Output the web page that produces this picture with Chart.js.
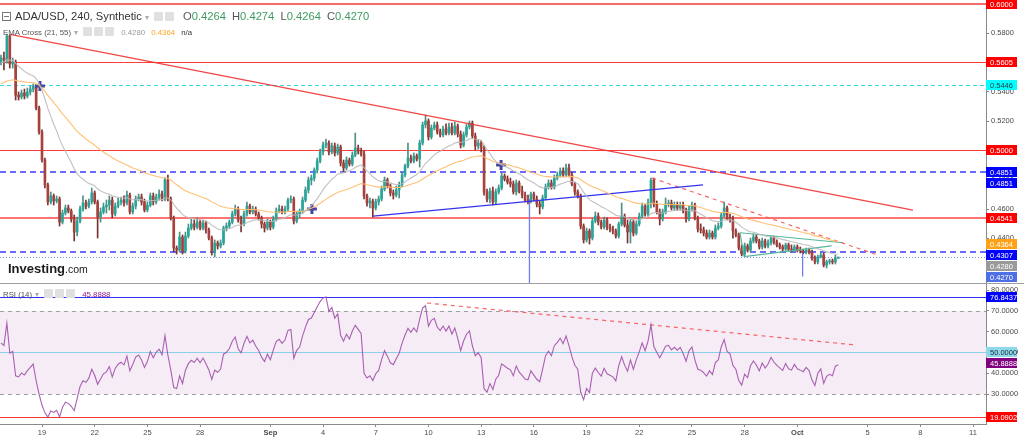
<!DOCTYPE html>
<html>
<head>
<meta charset="utf-8">
<title>ADA/USD, 240, Synthetic</title>
<script src="https://cdn.jsdelivr.net/npm/chart.js@4.4.1/dist/chart.umd.min.js"></script>
<style>
html,body{margin:0;padding:0;background:#fff;}
body{width:1024px;height:437px;position:relative;overflow:hidden;font-family:"Liberation Sans",Arial,sans-serif;}
.pane{position:absolute;left:0;width:1024px;}
#mainPane{top:0;height:283px;}
#rsiPane{top:284px;height:153px;}
#sep{position:absolute;left:0;top:283px;width:1024px;height:1px;background:#a0a0a0;}
.hdr{position:absolute;white-space:nowrap;}
.ico{display:inline-block;width:9px;height:9px;background:#e0e0e0;border-radius:1px;vertical-align:-1px;margin-right:2px;}
.sq{display:inline-block;width:7px;height:7px;border:1px solid #777;vertical-align:-1px;margin-right:4px;position:relative;}
.sq:after{content:"";position:absolute;left:1px;right:1px;top:3px;height:1px;background:#777;}
.arr{color:#aaa;font-size:8px;margin:0 5px 0 3px;}
</style>
</head>
<body>
<div class="pane" id="mainPane"><canvas id="mainCanvas" width="1024" height="283"></canvas></div>
<div id="sep"></div>
<div class="pane" id="rsiPane"><canvas id="rsiCanvas" width="1024" height="153"></canvas></div>

<div class="hdr" style="left:2px;top:10px;font-size:11.2px;color:#333;line-height:13px;">
<span class="sq"></span>ADA/USD, 240, Synthetic<span class="arr">&#9662;</span><span class="ico"></span><span class="ico"></span>
<span style="margin-left:4px;color:#555;">O</span><span style="color:#3d9b5f;">0.4264</span>
<span style="margin-left:3px;color:#555;">H</span><span style="color:#3d9b5f;">0.4274</span>
<span style="margin-left:3px;color:#555;">L</span><span style="color:#3d9b5f;">0.4264</span>
<span style="margin-left:3px;color:#555;">C</span><span style="color:#3d9b5f;">0.4270</span>
</div>
<div class="hdr" style="left:3px;top:27px;font-size:7.8px;color:#555;line-height:11px;">
EMA Cross (21, 55)<span class="arr">&#9662;</span><span class="ico"></span><span class="ico"></span><span class="ico"></span>
<span style="margin-left:3px;color:#999;">0.4280</span>
<span style="margin-left:4px;color:#ffa726;">0.4364</span>
<span style="margin-left:4px;color:#333;">n/a</span>
</div>
<div class="hdr" style="left:8px;top:259px;color:#1b1b1b;">
<span style="font-weight:bold;font-size:13px;">Investing</span><span style="font-size:10.5px;">.com</span>
</div>
<div class="hdr" style="left:3px;top:289px;font-size:7.8px;color:#555;line-height:11px;">
RSI (14)<span class="arr">&#9662;</span><span class="ico"></span><span class="ico"></span><span class="ico"></span>
<span style="margin-left:3px;color:#8b1a8b;">45.8888</span>
</div>

<script>
// ---------- DATA (4h candles, index 0 = Aug 16 16:00) ----------
const opens = [
.5602,.5630,.5616,.5780,.5589,.5602, .5377,.5364,.5391,.5370,.5398,.5418,
.5439,.5289,.5125,.4934,.4764,.4648, .4689,.4655,.4668,.4511,.4573,.4607,
.4586,.4532,.4443,.4518,.4600,.4641, .4620,.4648,.4709,.4648,.4545,.4580,
.4614,.4627,.4661,.4566,.4620,.4648, .4661,.4641,.4695,.4580,.4620,.4668,
.4682,.4648,.4593,.4627,.4689,.4648, .4682,.4702,.4668,.4798,.4668,.4539,
.4334,.4320,.4409,.4314,.4416,.4470, .4498,.4477,.4511,.4470,.4505,.4457,
.4402,.4307,.4368,.4348,.4368,.4470, .4484,.4511,.4566,.4600,.4525,.4498,
.4566,.4620,.4580,.4600,.4566,.4539, .4498,.4470,.4511,.4477,.4532,.4586,
.4600,.4580,.4600,.4661,.4668,.4518, .4566,.4586,.4661,.4730,.4798,.4811,
.4866,.4927,.4989,.5036,.5050,.4989, .5030,.4982,.5023,.4914,.4880,.4934,
.4907,.4968,.5016,.4995,.4975,.4689, .4641,.4655,.4607,.4648,.4668,.4736,
.4798,.4757,.4709,.4695,.4730,.4764, .4832,.4893,.4948,.4927,.4961,.4941,
.5050,.5173,.5200,.5091,.5152,.5173, .5125,.5105,.5145,.5118,.5159,.5118,
.5166,.5111,.5036,.5105,.5159,.5186, .5098,.5030,.5050,.5016,.4716,.4668,
.4723,.4648,.4716,.4743,.4825,.4805, .4784,.4770,.4716,.4777,.4723,.4695,
.4661,.4655,.4702,.4668,.4634,.4614, .4675,.4750,.4777,.4750,.4811,.4832,
.4859,.4832,.4880,.4832,.4770,.4716, .4689,.4484,.4389,.4450,.4402,.4518,
.4552,.4511,.4477,.4525,.4477,.4464, .4450,.4416,.4498,.4552,.4491,.4443,
.4511,.4436,.4498,.4552,.4620,.4566, .4641,.4798,.4634,.4580,.4532,.4580,
.4634,.4641,.4607,.4627,.4607,.4627, .4586,.4532,.4600,.4627,.4539,.4464,
.4457,.4436,.4409,.4436,.4409,.4470, .4484,.4559,.4607,.4539,.4525,.4450,
.4423,.4334,.4293,.4348,.4320,.4382, .4409,.4382,.4341,.4382,.4348,.4368,
.4402,.4375,.4355,.4341,.4327,.4355, .4327,.4320,.4341,.4320,.4314,.4307,
.4320,.4307,.4266,.4239,.4273,.4286, .4218,.4239,.4245,.4239,.4264
];
const highs = [
.5650,.5670,.5793,.5786,.5630,.5616, .5398,.5411,.5418,.5425,.5439,.5452,
.5445,.5302,.5139,.4948,.4777,.4716, .4702,.4689,.4682,.4593,.4627,.4627,
.4600,.4559,.4545,.4620,.4689,.4661, .4668,.4743,.4723,.4661,.4607,.4641,
.4661,.4689,.4682,.4641,.4675,.4682, .4689,.4723,.4709,.4641,.4689,.4702,
.4702,.4668,.4648,.4709,.4709,.4702, .4730,.4723,.4811,.4832,.4682,.4552,
.4348,.4443,.4423,.4443,.4498,.4532, .4525,.4539,.4525,.4525,.4518,.4470,
.4416,.4389,.4382,.4389,.4484,.4505, .4525,.4586,.4627,.4614,.4552,.4586,
.4648,.4634,.4620,.4614,.4580,.4552, .4511,.4532,.4525,.4552,.4607,.4627,
.4620,.4620,.4675,.4689,.4682,.4586, .4600,.4682,.4750,.4818,.4832,.4880,
.4948,.5009,.5057,.5077,.5064,.5050, .5050,.5043,.5036,.4934,.4955,.4948,
.4989,.5118,.5036,.5016,.4995,.4702, .4675,.4668,.4668,.4689,.4757,.4818,
.4811,.4770,.4730,.4757,.4784,.4852, .4907,.5050,.4968,.4982,.4975,.5070,
.5193,.5241,.5214,.5173,.5193,.5193, .5145,.5166,.5180,.5186,.5186,.5193,
.5180,.5132,.5125,.5180,.5200,.5200, .5118,.5070,.5064,.5030,.4736,.4743,
.4750,.4736,.4764,.4845,.4839,.4825, .4811,.4791,.4798,.4791,.4757,.4716,
.4695,.4716,.4716,.4689,.4655,.4695, .4770,.4798,.4798,.4832,.4852,.4880,
.4880,.4907,.4907,.4852,.4784,.4730, .4702,.4498,.4470,.4464,.4539,.4580,
.4573,.4525,.4545,.4539,.4498,.4484, .4464,.4511,.4641,.4566,.4525,.4539,
.4525,.4518,.4573,.4641,.4634,.4668, .4811,.4811,.4655,.4600,.4600,.4675,
.4661,.4661,.4648,.4648,.4648,.4648, .4607,.4620,.4648,.4641,.4552,.4498,
.4477,.4457,.4457,.4450,.4491,.4505, .4573,.4648,.4620,.4566,.4552,.4464,
.4436,.4355,.4368,.4361,.4402,.4430, .4423,.4395,.4402,.4395,.4389,.4416,
.4416,.4389,.4368,.4355,.4368,.4368, .4355,.4355,.4355,.4341,.4327,.4334,
.4334,.4320,.4280,.4286,.4300,.4300, .4252,.4259,.4259,.4286,.4274
];
const lows = [
.5582,.5548,.5595,.5561,.5561,.5343, .5343,.5350,.5350,.5357,.5377,.5398,
.5275,.5111,.4920,.4743,.4627,.4634, .4627,.4641,.4484,.4498,.4559,.4573,
.4511,.4382,.4416,.4505,.4586,.4600, .4607,.4634,.4634,.4402,.4511,.4566,
.4573,.4593,.4539,.4552,.4607,.4627, .4620,.4627,.4566,.4566,.4600,.4655,
.4627,.4580,.4580,.4614,.4627,.4634, .4661,.4655,.4655,.4655,.4525,.4307,
.4293,.4307,.4293,.4300,.4402,.4457, .4457,.4464,.4457,.4457,.4436,.4389,
.4286,.4273,.4327,.4334,.4355,.4450, .4470,.4498,.4552,.4511,.4443,.4484,
.4552,.4566,.4566,.4552,.4525,.4470, .4443,.4457,.4457,.4464,.4518,.4573,
.4566,.4566,.4586,.4641,.4498,.4505, .4539,.4573,.4648,.4709,.4764,.4791,
.4845,.4914,.4968,.5016,.4968,.4975, .4961,.4968,.4893,.4852,.4866,.4893,
.4893,.4955,.4975,.4961,.4668,.4620, .4607,.4545,.4593,.4627,.4655,.4723,
.4743,.4689,.4668,.4682,.4675,.4750, .4818,.4880,.4914,.4914,.4927,.4886,
.5036,.5152,.5070,.5077,.5139,.5111, .5091,.5091,.5105,.5105,.5105,.5105,
.5091,.5016,.5023,.5091,.5145,.5084, .5002,.5009,.4989,.4695,.4648,.4641,
.4627,.4634,.4702,.4730,.4791,.4770, .4750,.4702,.4695,.4709,.4675,.4648,
.4634,.4641,.4655,.4614,.4566,.4600, .4661,.4736,.4736,.4736,.4798,.4818,
.4818,.4818,.4818,.4757,.4695,.4675, .4464,.4368,.4375,.4361,.4389,.4505,
.4491,.4464,.4464,.4457,.4443,.4430, .4402,.4402,.4484,.4477,.4368,.4368,
.4416,.4423,.4484,.4539,.4552,.4552, .4607,.4614,.4566,.4491,.4518,.4566,
.4614,.4593,.4593,.4593,.4593,.4573, .4511,.4518,.4586,.4525,.4443,.4436,
.4416,.4395,.4395,.4395,.4395,.4457, .4470,.4545,.4525,.4511,.4402,.4409,
.4320,.4280,.4280,.4307,.4307,.4368, .4368,.4327,.4327,.4334,.4334,.4355,
.4361,.4341,.4327,.4314,.4314,.4314, .4307,.4307,.4307,.4300,.4293,.4293,
.4293,.4252,.4225,.4225,.4266,.4205, .4198,.4225,.4225,.4225,.4264
];
const closes = [
.5630,.5616,.5780,.5589,.5602,.5377, .5364,.5391,.5370,.5398,.5418,.5439,
.5289,.5125,.4934,.4764,.4648,.4689, .4655,.4668,.4511,.4573,.4607,.4586,
.4532,.4443,.4518,.4600,.4641,.4620, .4648,.4709,.4648,.4545,.4580,.4614,
.4627,.4661,.4566,.4620,.4648,.4661, .4641,.4695,.4580,.4620,.4668,.4682,
.4648,.4593,.4627,.4689,.4648,.4682, .4702,.4668,.4798,.4668,.4539,.4334,
.4320,.4409,.4314,.4416,.4470,.4498, .4477,.4511,.4470,.4505,.4457,.4402,
.4307,.4368,.4348,.4368,.4470,.4484, .4511,.4566,.4600,.4525,.4498,.4566,
.4620,.4580,.4600,.4566,.4539,.4498, .4470,.4511,.4477,.4532,.4586,.4600,
.4580,.4600,.4661,.4668,.4518,.4566, .4586,.4661,.4730,.4798,.4811,.4866,
.4927,.4989,.5036,.5050,.4989,.5030, .4982,.5023,.4914,.4880,.4934,.4907,
.4968,.5016,.4995,.4975,.4689,.4641, .4655,.4607,.4648,.4668,.4736,.4798,
.4757,.4709,.4695,.4730,.4764,.4832, .4893,.4948,.4927,.4961,.4941,.5050,
.5173,.5200,.5091,.5152,.5173,.5125, .5105,.5145,.5118,.5159,.5118,.5166,
.5111,.5036,.5105,.5159,.5186,.5098, .5030,.5050,.5016,.4716,.4668,.4723,
.4648,.4716,.4743,.4825,.4805,.4784, .4770,.4716,.4777,.4723,.4695,.4661,
.4655,.4702,.4668,.4634,.4614,.4675, .4750,.4777,.4750,.4811,.4832,.4859,
.4832,.4880,.4832,.4770,.4716,.4689, .4484,.4389,.4450,.4402,.4518,.4552,
.4511,.4477,.4525,.4477,.4464,.4450, .4416,.4498,.4552,.4491,.4443,.4511,
.4436,.4498,.4552,.4620,.4566,.4641, .4798,.4634,.4580,.4532,.4580,.4634,
.4641,.4607,.4627,.4607,.4627,.4586, .4532,.4600,.4627,.4539,.4464,.4457,
.4436,.4409,.4436,.4409,.4470,.4484, .4559,.4607,.4539,.4525,.4450,.4423,
.4334,.4293,.4348,.4320,.4382,.4409, .4382,.4341,.4382,.4348,.4368,.4402,
.4375,.4355,.4341,.4327,.4355,.4327, .4320,.4341,.4320,.4314,.4307,.4320,
.4307,.4266,.4239,.4273,.4286,.4218, .4239,.4245,.4239,.4266,.4270
];

// x-axis: candle index of each date tick, and its label
const tickIdx    = [14, 32, 50, 68, 92, 110, 128, 146, 164, 182, 200, 218, 236, 254, 272, 296, 314, 332];
const tickLabels = ['19','22','25','28','Sep','4','7','10','13','16','19','22','25','28','Oct','5','8','11'];
const priceTicks = [0.44, 0.46, 0.48, 0.50, 0.52, 0.54, 0.56, 0.58];
const rsiTicks   = [30, 40, 50, 60, 70, 80];

// indicator settings (EMA Cross 21/55, RSI 14) and their starting values at the first candle
const emaPeriods = [21, 55];
const emaStart   = [0.5600, 0.5455];
const rsiPeriod  = 14;
const rsiStartGainLoss = [0.0024, 0.0020];

// EMA cross markers (candle index, price)
const crossIdx = [13.3, 106.2, 170.8];
const crossVal = [0.5439, 0.4600, 0.4900];

// horizontal levels (main pane)
const priceLevels = [0.6000, 0.5605, 0.5446, 0.5000, 0.4851, 0.4541, 0.4307, 0.4270];
// price-scale labels (main pane)
const priceLabels = [0.6000, 0.5605, 0.5446, 0.5000, 0.4851, 0.4851, 0.4541, 0.4364, 0.4307, 0.4280, 0.4270];

// drawn trend lines: [startIdx, endIdx] and [startPrice, endPrice]
const resistX = [3.1, 311.5],   resistY = [0.5790, 0.4593];
const supportX = [127.1, 239.8], supportY = [0.4552, 0.4764];
const dashX = [222.4, 299.5],    dashY = [0.4811, 0.4286];
const triUpX = [252.4, 287.6],   triUpY = [0.4438, 0.4370];
const triLoX = [253.8, 283.7],   triLoY = [0.4275, 0.4348];
const triSideX = [252.4, 253.8], triSideY = [0.4438, 0.4275];
const vert1X = [180.5, 180.5],   vert1Y = [0.4668, 0.4000];
const vert2X = [273.8, 273.8],   vert2Y = [0.4300, 0.4139];

// RSI pane
const rsiLevels = [76.8437, 70, 50, 30, 19.0902];
const rsiLabels = [76.8437, 50.0000, 45.8888, 19.0902];
const rsiBand = [70, 30];
const rsiDashX = [145.5, 291.7], rsiDashY = [73.75, 53.6];

// ---------- STYLE ----------
const X_MIN = -0.346, X_MAX = 336.44;
const P_MIN = 0.40955, P_MAX = 0.6025;
const R_MIN = 15.577, R_MAX = 82.885;
const FONT = '"Liberation Sans", Arial, sans-serif';
const upBody = '#26a69a', dnBody = '#a6413c', upWick = '#4f8f84', dnWick = '#7a3230';
const levelStyles = [
  {c:'rgba(240,70,70,0.8)', w:2, d:[]},
  {c:'#ff3b3b', w:1, d:[]},
  {c:'#30e0e0', w:1, d:[4,3]},
  {c:'#ff3b3b', w:1, d:[]},
  {c:'#6b6bff', w:2, d:[6,4]},
  {c:'rgba(255,80,80,0.8)', w:2, d:[]},
  {c:'#6b6bff', w:2, d:[6,4]},
  {c:'#7f95f5', w:1, d:[1,2]}
];
const priceLabelBg = ['#ff0000','#ff0000','#00ffff','#ff0000','#0000ff','#0000ff','#ff0000','#ffa21a','#0000ff','#9a9a9a','#4f6fe6'];
const priceLabelFg = ['#fff','#fff','#1a3a3a','#fff','#fff','#fff','#fff','#fff','#fff','#fff','#fff'];
const rsiLevelStyles = [
  {c:'#3030ff', w:1, d:[]},
  {c:'#a0a0a0', w:1, d:[4,4]},
  {c:'#8ccfe8', w:1, d:[]},
  {c:'#a0a0a0', w:1, d:[4,4]},
  {c:'#ff3030', w:1, d:[]}
];
const rsiLabelBg = ['#0000ff', '#8fd8ea', '#800080', '#ff0000'];
const rsiLabelFg = ['#fff', '#1a2a3a', '#fff', '#fff'];

// ---------- derived indicator series ----------
function ema(vals, n, start) {
  const k = 2 / (n + 1); const out = [start];
  for (let i = 1; i < vals.length; i++) out.push(out[i - 1] + k * (vals[i] - out[i - 1]));
  return out;
}
function rsi(vals, n, g0, l0) {
  let ag = g0, al = l0; const out = [100 - 100 / (1 + ag / al)];
  for (let i = 1; i < vals.length; i++) {
    const d = vals[i] - vals[i - 1];
    ag = (ag * (n - 1) + Math.max(d, 0)) / n;
    al = (al * (n - 1) + Math.max(-d, 0)) / n;
    out.push(100 - 100 / (1 + ag / al));
  }
  return out;
}
const emaFast = ema(closes, emaPeriods[0], emaStart[0]);
const emaSlow = ema(closes, emaPeriods[1], emaStart[1]);
const rsiVals = rsi(closes, rsiPeriod, rsiStartGainLoss[0], rsiStartGainLoss[1]);

const pts = (xs, ys) => xs.map((x, i) => ({x, y: ys[i]}));
const lineDs = (xs, ys, color, width, dash) => ({
  type: 'line', data: pts(xs, ys), borderColor: color, borderWidth: width, borderDash: dash || [],
  pointRadius: 0, fill: false, tension: 0, order: 0
});

function levelsPlugin(id, values, styles, labelVals, labelBg, labelFg, band, bandColor) {
  return {
    id,
    beforeDatasetsDraw(chart) {
      const {ctx, chartArea: a, scales: {y}} = chart;
      ctx.save();
      ctx.beginPath(); ctx.rect(a.left, a.top, a.right - a.left, a.bottom - a.top); ctx.clip();
      if (band) {
        const y1 = y.getPixelForValue(band[0]), y2 = y.getPixelForValue(band[1]);
        ctx.fillStyle = bandColor; ctx.fillRect(a.left, y1, a.right - a.left, y2 - y1);
      }
      values.forEach((v, i) => {
        const st = styles[i];
        const py = Math.round(y.getPixelForValue(v)) + (st.w % 2 ? 0.5 : 0);
        ctx.strokeStyle = st.c; ctx.lineWidth = st.w; ctx.setLineDash(st.d);
        ctx.beginPath(); ctx.moveTo(a.left, py); ctx.lineTo(a.right, py); ctx.stroke();
      });
      ctx.restore();
    },
    afterDraw(chart) {
      const {ctx, chartArea: a, scales: {y}} = chart;
      const items = labelVals.map((v, i) => ({v, y: y.getPixelForValue(v), bg: labelBg[i], fg: labelFg[i]}));
      items.sort((p, q) => p.y - q.y);
      for (let i = 1; i < items.length; i++) if (items[i].y < items[i - 1].y + 11) items[i].y = items[i - 1].y + 11;
      ctx.save();
      ctx.font = '7.5px ' + FONT; ctx.textBaseline = 'middle';
      items.forEach(it => {
        ctx.fillStyle = it.bg; ctx.fillRect(a.right, Math.round(it.y) - 5, 31, 10);
        ctx.fillStyle = it.fg; ctx.fillText(it.v.toFixed(4), a.right + 4, Math.round(it.y) + 0.5);
      });
      ctx.restore();
    }
  };
}

const yAxisCommon = (min, max, ticks) => ({
  position: 'right', min, max,
  afterBuildTicks: s => { s.ticks = ticks.map(v => ({value: v})); },
  afterFit: s => { s.width = 38; s.paddingTop = 0; s.paddingBottom = 0; },
  ticks: {callback: v => Number(v).toFixed(4), color: '#4a4a4a', font: {size: 7.5, family: FONT}, padding: 2},
  grid: {drawOnChartArea: false, tickLength: 3, color: '#8a8a8a'},
  border: {display: true, color: '#8a8a8a'}
});

Chart.defaults.font.family = FONT;
Chart.defaults.animation = false;

const idxs = closes.map((_, i) => i);
new Chart(document.getElementById('mainCanvas'), {
  type: 'bar',
  data: {
    datasets: [
      {type: 'bar', data: idxs.map(i => ({x: i, y: [lows[i], highs[i]]})),
       backgroundColor: idxs.map(i => closes[i] >= opens[i] ? upWick : dnWick),
       barThickness: 1, grouped: false, order: 3},
      {type: 'bar', data: idxs.map(i => ({x: i, y: [opens[i], closes[i]]})),
       backgroundColor: idxs.map(i => closes[i] >= opens[i] ? upBody : dnBody),
       barThickness: 2, minBarLength: 1, grouped: false, order: 2},
      lineDs(idxs, emaFast, 'rgba(185,185,185,0.9)', 1.1),
      lineDs(idxs, emaSlow, 'rgba(255,190,110,0.95)', 1.1),
      lineDs(resistX, resistY, 'rgba(240,50,50,0.9)', 1.3),
      lineDs(supportX, supportY, '#3434f0', 1.3),
      lineDs(dashX, dashY, 'rgba(245,85,85,0.9)', 1.2, [4, 4]),
      lineDs(triUpX, triUpY, '#55b89c', 1.2),
      lineDs(triLoX, triLoY, '#55b89c', 1.2),
      lineDs(triSideX, triSideY, '#55b89c', 1.2),
      lineDs(vert1X, vert1Y, '#6f7ff0', 1.3),
      lineDs(vert2X, vert2Y, '#6f7ff0', 1.3),
      {type: 'scatter', data: pts(crossIdx, crossVal), pointStyle: 'cross', pointRadius: 5,
       borderColor: '#4646a0', borderWidth: 3, backgroundColor: '#4646a0', order: 0}
    ]
  },
  options: {
    responsive: false, devicePixelRatio: 1, animation: false,
    layout: {padding: 0, autoPadding: false},
    plugins: {legend: {display: false}, tooltip: {enabled: false}},
    scales: {
      x: {type: 'linear', display: false, min: X_MIN, max: X_MAX, offset: false},
      y: yAxisCommon(P_MIN, P_MAX, priceTicks)
    }
  },
  plugins: [levelsPlugin('mainLevels', priceLevels, levelStyles, priceLabels, priceLabelBg, priceLabelFg)]
});

new Chart(document.getElementById('rsiCanvas'), {
  type: 'line',
  data: {
    datasets: [
      lineDs(idxs, rsiVals, 'rgba(160,80,170,0.9)', 1.1),
      lineDs(rsiDashX, rsiDashY, 'rgba(245,85,85,0.9)', 1.2, [4, 4])
    ]
  },
  options: {
    responsive: false, devicePixelRatio: 1, animation: false,
    layout: {padding: 0, autoPadding: false},
    plugins: {legend: {display: false}, tooltip: {enabled: false}},
    scales: {
      x: {
        type: 'linear', min: X_MIN, max: X_MAX, offset: false,
        afterBuildTicks: s => { s.ticks = tickIdx.map(v => ({value: v})); },
        afterFit: s => { s.height = 13; s.paddingLeft = 0; s.paddingRight = 0; },
        ticks: {
          autoSkip: false, maxRotation: 0, color: '#4a4a4a', padding: 1,
          callback: (v, i) => tickLabels[i],
          font: ctx => ({size: 7.5, family: FONT, weight: isNaN(Number(tickLabels[ctx.index])) ? 'bold' : 'normal'})
        },
        grid: {drawOnChartArea: false, tickLength: 3, color: '#8a8a8a'},
        border: {display: true, color: '#8a8a8a'}
      },
      y: yAxisCommon(R_MIN, R_MAX, rsiTicks)
    }
  },
  plugins: [levelsPlugin('rsiLevels', rsiLevels, rsiLevelStyles, rsiLabels, rsiLabelBg, rsiLabelFg, rsiBand, 'rgba(150,40,160,0.09)')]
});
</script>
</body>
</html>
